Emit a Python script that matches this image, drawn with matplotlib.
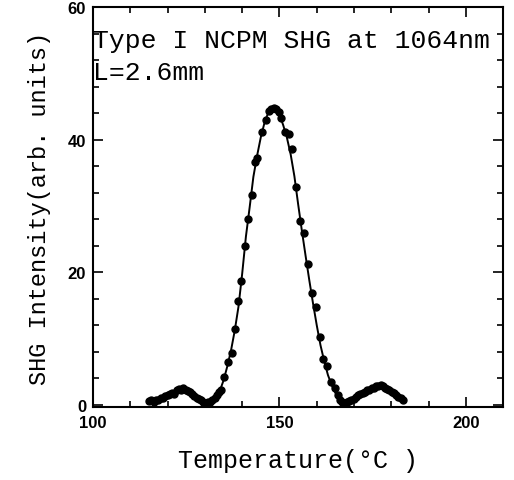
import matplotlib.pyplot as plt
from matplotlib.ticker import MultipleLocator

# measured points (temperature in C, SHG intensity)
temp_pts = [115.0, 115.6, 116.3, 116.9, 117.5, 118.2, 118.8, 119.4, 120.0, 120.6,
            121.2, 121.8, 122.4, 123.0, 123.6, 124.2, 124.8, 125.4, 126.0, 126.6,
            127.2, 127.8, 128.4, 129.0, 129.6, 130.2, 130.8, 131.4, 132.0, 132.6,
            133.2, 133.8, 134.3,
            135.2, 136.1, 137.2, 138.0, 139.0, 139.8, 140.7, 141.5, 142.5, 143.4,
            144.0, 145.4, 146.3, 147.1, 147.8, 148.5, 149.2, 149.8, 150.3, 151.4,
            152.5, 153.4, 154.5, 155.6, 156.5, 157.6, 158.7, 159.8, 160.8, 161.8,
            162.8, 163.8, 164.8,
            165.6, 166.3, 166.9, 167.5, 168.1, 168.7, 169.3, 169.9, 170.5, 171.1,
            171.7, 172.3, 172.9, 173.5, 174.1, 174.7, 175.3, 175.9, 176.5, 177.1,
            177.7, 178.3, 178.9, 179.5, 180.1, 180.7, 181.3, 181.9, 182.5, 183.1]
shg_pts = [0.6, 0.7, 0.5, 0.8, 0.7, 1.0, 1.1, 1.3, 1.5, 1.7,
           1.8, 1.7, 2.2, 2.4, 2.3, 2.5, 2.2, 2.1, 1.9, 1.6,
           1.4, 1.1, 0.9, 0.7, 0.5, 0.3, 0.4, 0.5, 0.8, 1.1,
           1.5, 2.0, 2.3,
           4.2, 6.4, 7.9, 11.5, 15.7, 18.7, 23.9, 28.0, 31.6, 36.7,
           37.2, 41.2, 43.0, 44.3, 44.6, 44.8, 44.7, 44.2, 43.3, 41.2,
           40.9, 38.6, 32.8, 27.8, 26.0, 21.2, 16.9, 14.7, 10.3, 6.9,
           5.9, 3.5, 2.5,
           1.5, 0.8, 0.4, 0.2, 0.4, 0.6, 0.8, 0.9, 1.2, 1.5,
           1.7, 1.8, 1.9, 2.2, 2.2, 2.5, 2.6, 2.8, 2.9, 3.0,
           2.8, 2.6, 2.4, 2.2, 2.0, 1.8, 1.5, 1.2, 1.0, 0.8]

# fitted curve
temp_fit = list(range(115, 184))
shg_fit = [0.6, 0.7, 0.9, 1.1, 1.4, 1.7, 1.9, 2.1, 2.3, 2.3,
           2.2, 1.9, 1.5, 1.1, 0.7, 0.4, 0.4, 0.8, 1.3, 2.1,
           3.7, 5.8, 8.2, 11.2, 14.8, 19.8, 25.4, 29.8, 34.4, 37.6,
           40.4, 42.6, 44.1, 44.7, 44.7, 43.8, 42.2, 40.3, 37.8, 34.5,
           30.3, 26.3, 22.5, 18.8, 15.3, 12.0, 9.0, 6.6, 4.5, 3.0,
           1.8, 0.9, 0.3, 0.4, 0.7, 1.0, 1.4, 1.8, 2.1, 2.4,
           2.6, 2.8, 2.8, 2.6, 2.3, 1.9, 1.5, 1.1, 0.8]

mono = 'Liberation Mono'

fig = plt.figure(figsize=(5.14, 4.81), dpi=100)
ax = fig.add_axes([0.181, 0.152, 0.798, 0.831])

ax.plot(temp_fit, shg_fit, color='black', linewidth=1.4)
ax.plot(temp_pts, shg_pts, 'o', color='black', markersize=5)

ax.set_xlim(100, 210)
ax.set_ylim(-0.3, 60)
ax.xaxis.set_major_locator(MultipleLocator(50))
ax.xaxis.set_minor_locator(MultipleLocator(10))
ax.yaxis.set_major_locator(MultipleLocator(20))
ax.yaxis.set_minor_locator(MultipleLocator(4))
ax.tick_params(which='both', direction='in', top=True, right=True, width=1.2)
ax.tick_params(which='major', length=7, labelsize=12)
ax.tick_params(axis='x', which='major', pad=6)
ax.tick_params(axis='y', which='major', pad=5)
ax.tick_params(which='minor', length=4)
for lab in ax.get_xticklabels() + ax.get_yticklabels():
    lab.set_fontweight('bold')
    lab.set_family('Liberation Sans')
for sp in ax.spines.values():
    sp.set_linewidth(1.5)

ax.set_xlabel('Temperature(°C )', fontsize=18, family=mono, labelpad=13)
ax.set_ylabel('SHG Intensity(arb. units)', fontsize=17, family=mono, labelpad=12)

ax.text(0.0, 0.918, 'Type I NCPM SHG at 1064nm', transform=ax.transAxes,
        fontsize=19, family=mono, va='center', ha='left')
ax.text(0.0, 0.838, 'L=2.6mm', transform=ax.transAxes,
        fontsize=19, family=mono, va='center', ha='left')

plt.savefig('out.png', dpi=100)
